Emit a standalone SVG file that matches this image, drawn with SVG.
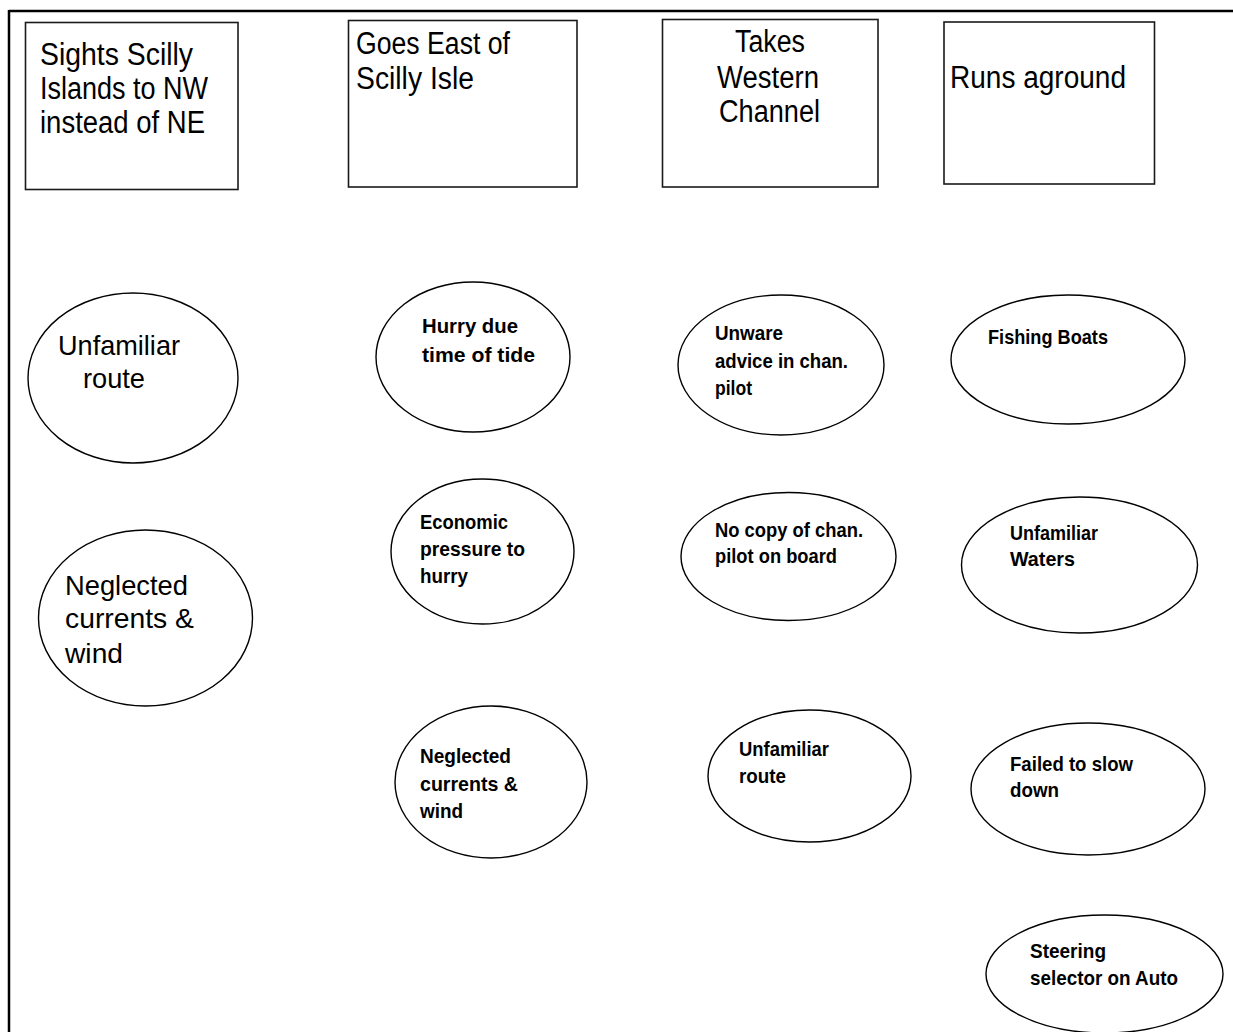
<svg xmlns="http://www.w3.org/2000/svg" width="1233" height="1032" viewBox="0 0 1233 1032">
<style>
.bg{fill:#fff}
.frame{stroke:#000;stroke-width:2.5;fill:none}
.box{fill:#fff;stroke:#1a1a1a;stroke-width:1.6}
.ell{fill:#fff;stroke:#000;stroke-width:1.4}
.big{font-family:"Liberation Sans",Arial,sans-serif;font-size:31px;fill:#000}
.mid{font-family:"Liberation Sans",Arial,sans-serif;font-size:28px;fill:#000}
.sm{font-family:"Liberation Sans",Arial,sans-serif;font-size:21px;font-weight:bold;fill:#000}
</style>
<rect class="bg" x="0" y="0" width="1233" height="1032"/>
<g id="frame">
<line class="frame" x1="9" y1="11" x2="1233" y2="11"/>
<line class="frame" x1="9" y1="10" x2="9" y2="1032"/>
</g>
<g id="connectors"></g>
<g id="box-sights">
<rect class="box" x="25.5" y="22.5" width="212.5" height="167"/>
<text class="big" x="40" y="65" textLength="153" lengthAdjust="spacingAndGlyphs">Sights Scilly</text>
<text class="big" x="40" y="99" textLength="168" lengthAdjust="spacingAndGlyphs">Islands to NW</text>
<text class="big" x="40" y="133" textLength="165" lengthAdjust="spacingAndGlyphs">instead of NE</text>
</g>
<g id="box-goes-east">
<rect class="box" x="348.5" y="20.5" width="228.5" height="166.5"/>
<text class="big" x="356" y="54" textLength="154" lengthAdjust="spacingAndGlyphs">Goes East of</text>
<text class="big" x="356" y="89" textLength="118" lengthAdjust="spacingAndGlyphs">Scilly Isle</text>
</g>
<g id="box-western">
<rect class="box" x="662.5" y="19.5" width="215.5" height="167.5"/>
<text class="big" x="735" y="52" textLength="70" lengthAdjust="spacingAndGlyphs">Takes</text>
<text class="big" x="717" y="88" textLength="102" lengthAdjust="spacingAndGlyphs">Western</text>
<text class="big" x="719" y="122" textLength="101" lengthAdjust="spacingAndGlyphs">Channel</text>
</g>
<g id="box-aground">
<rect class="box" x="944" y="22" width="210.5" height="162"/>
<text class="big" x="950" y="88" textLength="176" lengthAdjust="spacingAndGlyphs">Runs aground</text>
</g>
<g id="e-unfamiliar-route-1">
<ellipse class="ell" cx="133" cy="378" rx="105" ry="85"/>
<text class="mid" x="58" y="355" textLength="122" lengthAdjust="spacingAndGlyphs">Unfamiliar</text>
<text class="mid" x="83" y="388" textLength="62" lengthAdjust="spacingAndGlyphs">route</text>
</g>
<g id="e-neglected-1">
<ellipse class="ell" cx="145.5" cy="618" rx="107" ry="88"/>
<text class="mid" x="65" y="595" textLength="123" lengthAdjust="spacingAndGlyphs">Neglected</text>
<text class="mid" x="65" y="628" textLength="129" lengthAdjust="spacingAndGlyphs">currents &amp;</text>
<text class="mid" x="65" y="663" textLength="58" lengthAdjust="spacingAndGlyphs">wind</text>
</g>
<g id="e-hurry">
<ellipse class="ell" cx="473" cy="357" rx="97" ry="75"/>
<text class="sm" x="422" y="333" textLength="96" lengthAdjust="spacingAndGlyphs">Hurry due</text>
<text class="sm" x="422" y="362" textLength="113" lengthAdjust="spacingAndGlyphs">time of tide</text>
</g>
<g id="e-economic">
<ellipse class="ell" cx="482.5" cy="551.5" rx="91.5" ry="72.5"/>
<text class="sm" x="420" y="529" textLength="88" lengthAdjust="spacingAndGlyphs">Economic</text>
<text class="sm" x="420" y="556" textLength="105" lengthAdjust="spacingAndGlyphs">pressure to</text>
<text class="sm" x="420" y="583" textLength="48" lengthAdjust="spacingAndGlyphs">hurry</text>
</g>
<g id="e-neglected-2">
<ellipse class="ell" cx="491" cy="782" rx="96" ry="76"/>
<text class="sm" x="420" y="763" textLength="91" lengthAdjust="spacingAndGlyphs">Neglected</text>
<text class="sm" x="420" y="791" textLength="98" lengthAdjust="spacingAndGlyphs">currents &amp;</text>
<text class="sm" x="420" y="818" textLength="43" lengthAdjust="spacingAndGlyphs">wind</text>
</g>
<g id="e-unware">
<ellipse class="ell" cx="781" cy="365" rx="103" ry="70"/>
<text class="sm" x="715" y="340" textLength="68" lengthAdjust="spacingAndGlyphs">Unware</text>
<text class="sm" x="715" y="368" textLength="133" lengthAdjust="spacingAndGlyphs">advice in chan.</text>
<text class="sm" x="715" y="395" textLength="37" lengthAdjust="spacingAndGlyphs">pilot</text>
</g>
<g id="e-nocopy">
<ellipse class="ell" cx="788.5" cy="556.5" rx="107.5" ry="64"/>
<text class="sm" x="715" y="537" textLength="148" lengthAdjust="spacingAndGlyphs">No copy of chan.</text>
<text class="sm" x="715" y="563" textLength="122" lengthAdjust="spacingAndGlyphs">pilot on board</text>
</g>
<g id="e-unfamiliar-route-2">
<ellipse class="ell" cx="809.5" cy="776" rx="101.5" ry="66"/>
<text class="sm" x="739" y="756" textLength="90" lengthAdjust="spacingAndGlyphs">Unfamiliar</text>
<text class="sm" x="739" y="783" textLength="47" lengthAdjust="spacingAndGlyphs">route</text>
</g>
<g id="e-fishing">
<ellipse class="ell" cx="1068" cy="359.5" rx="117" ry="64.5"/>
<text class="sm" x="988" y="344" textLength="120" lengthAdjust="spacingAndGlyphs">Fishing Boats</text>
</g>
<g id="e-waters">
<ellipse class="ell" cx="1079.5" cy="565" rx="118" ry="68"/>
<text class="sm" x="1010" y="540" textLength="88" lengthAdjust="spacingAndGlyphs">Unfamiliar</text>
<text class="sm" x="1010" y="566" textLength="65" lengthAdjust="spacingAndGlyphs">Waters</text>
</g>
<g id="e-failed">
<ellipse class="ell" cx="1088" cy="789" rx="117" ry="66"/>
<text class="sm" x="1010" y="771" textLength="123" lengthAdjust="spacingAndGlyphs">Failed to slow</text>
<text class="sm" x="1010" y="797" textLength="49" lengthAdjust="spacingAndGlyphs">down</text>
</g>
<g id="e-steering">
<ellipse class="ell" cx="1104.5" cy="974" rx="118.5" ry="59"/>
<text class="sm" x="1030" y="958" textLength="76" lengthAdjust="spacingAndGlyphs">Steering</text>
<text class="sm" x="1030" y="985" textLength="148" lengthAdjust="spacingAndGlyphs">selector on Auto</text>
</g>
</svg>
